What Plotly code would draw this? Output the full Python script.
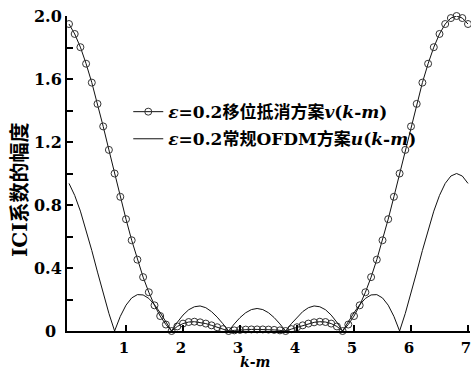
import plotly.graph_objects as go

# k-m positions
x_vals = [0.0, 0.1, 0.2, 0.3, 0.4, 0.5, 0.6, 0.7, 0.8, 0.9,
          1.0, 1.1, 1.2, 1.3, 1.4, 1.5, 1.6, 1.7, 1.8, 1.9,
          2.0, 2.1, 2.2, 2.3, 2.4, 2.5, 2.6, 2.7, 2.8, 2.9,
          3.0, 3.1, 3.2, 3.3, 3.4, 3.5, 3.6, 3.7, 3.8, 3.9,
          4.0, 4.1, 4.2, 4.3, 4.4, 4.5, 4.6, 4.7, 4.8, 4.9,
          5.0, 5.1, 5.2, 5.3, 5.4, 5.5, 5.6, 5.7, 5.8, 5.9,
          6.0, 6.1, 6.2, 6.3, 6.4, 6.5, 6.6, 6.7, 6.8, 6.9,
          7.0]

# shift-cancellation scheme v(k-m), eps = 0.2
v_vals = [1.949, 1.886, 1.802, 1.697, 1.577, 1.442, 1.299, 1.150, 1.000, 0.852,
          0.710, 0.576, 0.453, 0.342, 0.246, 0.163, 0.095, 0.041, 0.000, 0.029,
          0.047, 0.057, 0.059, 0.055, 0.047, 0.036, 0.024, 0.012, 0.000, 0.004,
          0.007, 0.009, 0.010, 0.010, 0.010, 0.009, 0.007, 0.004, 0.000, 0.012,
          0.024, 0.036, 0.047, 0.055, 0.059, 0.057, 0.047, 0.029, 0.000, 0.041,
          0.095, 0.163, 0.246, 0.342, 0.453, 0.576, 0.710, 0.852, 1.000, 1.150,
          1.299, 1.442, 1.577, 1.697, 1.802, 1.886, 1.949, 1.987, 2.000, 1.987,
          1.949]

# conventional OFDM u(k-m), eps = 0.2
u_vals = [0.937, 0.861, 0.761, 0.642, 0.511, 0.374, 0.239, 0.112, 0.000, 0.093,
          0.164, 0.210, 0.231, 0.229, 0.207, 0.167, 0.116, 0.059, 0.000, 0.055,
          0.101, 0.135, 0.154, 0.159, 0.148, 0.123, 0.088, 0.046, 0.000, 0.045,
          0.085, 0.116, 0.136, 0.143, 0.136, 0.116, 0.085, 0.045, 0.000, 0.046,
          0.088, 0.123, 0.148, 0.159, 0.154, 0.135, 0.101, 0.055, 0.000, 0.059,
          0.116, 0.167, 0.207, 0.229, 0.231, 0.210, 0.164, 0.093, 0.000, 0.112,
          0.239, 0.374, 0.511, 0.642, 0.761, 0.861, 0.937, 0.984, 1.000, 0.984,
          0.937]

x_tickvals = [1, 2, 3, 4, 5, 6, 7]
x_ticktext = ["1", "2", "3", "4", "5", "6", "7"]
y_tickvals = [0, 0.2, 0.4, 0.6, 0.8, 1.0, 1.2, 1.4, 1.6, 1.8, 2.0]
y_ticktext = ["0\u00a0", "", "0.4", "", "0.8", "", "1.2", "", "1.6", "", "2.0"]

name_v = "<b><i>ε</i>=0.2移位抵消方案<i>v</i>(<i>k</i>-<i>m</i>)</b>"
name_u = "<b><i>ε</i>=0.2常规OFDM方案<i>u</i>(<i>k</i>-<i>m</i>)</b>"

serif = "DejaVu Serif, Noto Sans CJK SC"

fig = go.Figure()
fig.add_trace(go.Scatter(
    x=x_vals, y=v_vals, mode="lines+markers", name=name_v,
    line=dict(color="#111111", width=1),
    marker=dict(symbol="circle-open", size=7, color="#333333", line=dict(width=1)),
    cliponaxis=False, legendgroup="v"))
fig.add_trace(go.Scatter(
    x=x_vals, y=u_vals, mode="lines", name=name_u,
    line=dict(color="#111111", width=1),
    cliponaxis=False, legendgroup="u"))

fig.update_layout(
    width=471, height=369,
    margin=dict(l=67, r=1, t=16, b=38, autoexpand=False),
    paper_bgcolor="white", plot_bgcolor="white",
    font=dict(family=serif, color="black"),
    showlegend=True,
    legend=dict(x=0.152, y=0.752, xanchor="left", yanchor="top",
                bgcolor="rgba(0,0,0,0)", tracegroupgap=2,
                font=dict(size=17, family=serif, color="black"),
                itemwidth=30),
    xaxis=dict(range=[-0.035, 7.035], showgrid=False, zeroline=False,
               showline=True, linecolor="black", linewidth=2,
               automargin=False, ticklabeloverflow="allow",
               tickvals=x_tickvals, ticktext=x_ticktext,
               ticks="inside", ticklen=6, tickwidth=1.5,
               tickcolor="black", ticklabelstandoff=2, ticklabelshift=-2,
               tickfont=dict(size=15, family="DejaVu Serif", weight="bold")),
    yaxis=dict(range=[0, 2.0], showgrid=False, zeroline=False,
               showline=True, linecolor="black", linewidth=2,
               automargin=False, ticklabeloverflow="allow",
               tickvals=y_tickvals, ticktext=y_ticktext,
               ticks="inside", ticklen=6, tickwidth=1.5, tickcolor="black",
               tickfont=dict(size=16, family="DejaVu Serif", weight="bold")),
    annotations=[
        dict(text="<b>ICI系数的幅度</b>", textangle=-90, xref="paper", yref="paper",
             x=-0.1166, y=0.4476, xanchor="center", yanchor="middle", showarrow=False,
             font=dict(size=20, family=serif, color="black")),
        dict(text="<b><i>k</i>-<i>m</i></b>", xref="paper", yref="paper",
             x=0.4665, y=-0.097, xanchor="center", yanchor="middle", showarrow=False,
             font=dict(size=14, family="DejaVu Serif", color="black")),
    ],
)

# remove the browser's default 8px body margin so the figure fills the window
fig.write_html("out.html", config={"displayModeBar": False},
               post_script="document.body.style.margin='0';")
